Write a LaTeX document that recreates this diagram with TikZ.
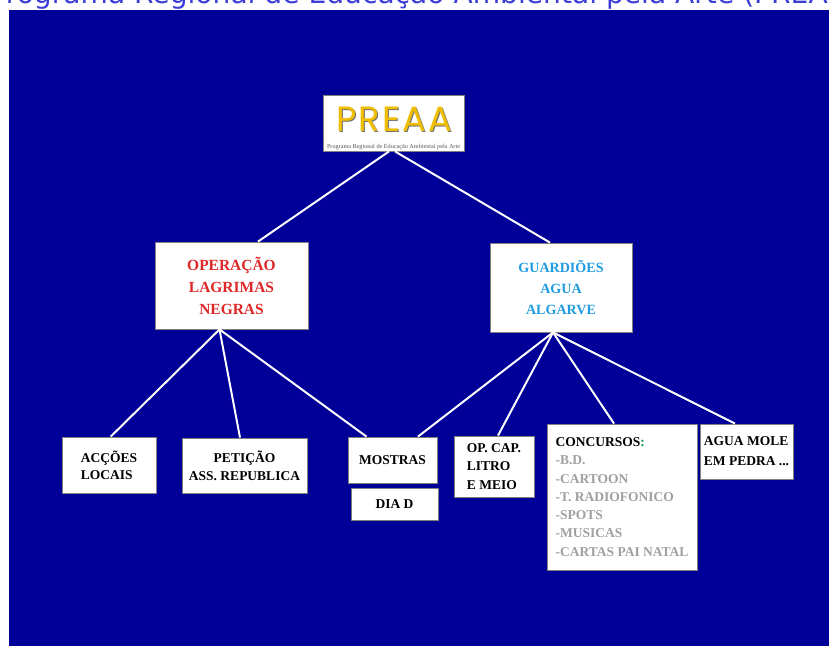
\documentclass[tikz,border=0pt]{standalone}
\usepackage{fontspec}
\setmainfont{Liberation Serif}
\newfontfamily\logofont[LetterSpace=6]{Poppins}
\newfontfamily\titlefont{DejaVu Sans}

\definecolor{bgblue}{RGB}{0,0,153}
\definecolor{titleblue}{RGB}{60,60,215}
\definecolor{logogold}{RGB}{240,190,0}
\definecolor{opred}{RGB}{222,40,40}
\definecolor{gablue}{RGB}{30,155,225}
\definecolor{itemgray}{RGB}{160,160,160}
\definecolor{colgreen}{RGB}{0,150,60}

\tikzset{
  box/.style={draw=gray, line width=0.6pt, fill=white, inner sep=0pt, align=center,
    font=\bfseries\fontsize{9.6}{13}\selectfont},
  link/.style={draw=white, line width=1.4pt},
}

\begin{document}
\begin{tikzpicture}[x=0.025cm, y=-0.025cm]
    \def\px{0.025cm}
    \useasboundingbox (0,0) rectangle (829,646);
    \clip (0,0) rectangle (829,646);

    \fill[bgblue] (9,10) rectangle (829,646);
    \node[anchor=base, text=titleblue, font=\titlefont\fontsize{20}{22}\selectfont] (title) at (424,3)
      {Programa Regional de Educação Ambiental pela Arte (PREAA)};

    % top box
    \node[box, minimum width=141*\px, minimum height=56*\px] (preaa) at (393.5,123) {};
    \node[anchor=base, text=black!55, font=\logofont\fontsize{25}{25}\selectfont] (logoshade) at (394.9,132.6) {PREAA};
    \node[anchor=base, text=logogold, font=\logofont\fontsize{25}{25}\selectfont] (logo) at (394,131.7) {PREAA};
    \node[anchor=base, text=black!65, font=\fontsize{4.4}{5}\selectfont] (caption) at (393.5,148)
      {Programa Regional de Educação Ambiental pela Arte};

    % second level
    \node[box, text=opred, font=\bfseries\fontsize{11}{15.6}\selectfont,
      minimum width=153*\px, minimum height=87*\px] (oln) at (231.5,285.5) {OPERAÇÃO\\LAGRIMAS\\NEGRAS};
    \node[box, text=gablue, font=\bfseries\fontsize{10}{15}\selectfont,
      minimum width=142*\px, minimum height=89*\px] (gaa) at (561,287.5) {GUARDIÕES\\AGUA\\ALGARVE};

    % third level
    \node[box, align=left, font=\bfseries\fontsize{9.6}{12.3}\selectfont,
      minimum width=94*\px, minimum height=56*\px] (accoes) at (109,465) {ACÇÕES\\LOCAIS};
    \node[box, minimum width=125*\px, minimum height=55*\px] (peticao) at (244.5,465.5) {PETIÇÃO\\ASS. REPUBLICA};
    \node[box, minimum width=89*\px, minimum height=46*\px] (mostras) at (392.5,460) {MOSTRAS};
    \node[box, minimum width=87*\px, minimum height=32*\px] (diad) at (394.5,504) {DIA D};
    \node[box, align=left, minimum width=80*\px, minimum height=61*\px] (opcap) at (494,466.5) {OP. CAP.\\LITRO\\E MEIO};
    \node[box, align=left, text=itemgray, minimum width=150*\px, minimum height=146*\px] (concursos) at (622,497)
      {\textcolor{black}{CONCURSOS}\textcolor{colgreen}{:}\\-B.D.\\-CARTOON\\-T. RADIOFONICO\\-SPOTS\\-MUSICAS\\-CARTAS PAI NATAL};
    \node[box, align=left, font=\bfseries\fontsize{9.6}{14.2}\selectfont,
      minimum width=93*\px, minimum height=55*\px] (aguamole) at (746.5,451.5) {AGUA MOLE\\EM PEDRA ...};

    % connectors
    \draw[link] ([shift={(-4.5,0)}]preaa.south) -- ([shift={(26.5,0)}]oln.north);
    \draw[link] ([shift={(1.5,0)}]preaa.south) -- ([shift={(-11,0)}]gaa.north);

    \draw[link] ([shift={(-12,0)}]oln.south) -- ([shift={(1.7,0)}]accoes.north);
    \draw[link] ([shift={(-12,0)}]oln.south) -- ([shift={(-4.5,0)}]peticao.north);
    \draw[link] ([shift={(-12,0)}]oln.south) -- ([shift={(-26,0)}]mostras.north);

    \draw[link] ([shift={(-8,0)}]gaa.south) -- ([shift={(25.5,0)}]mostras.north);
    \draw[link] ([shift={(-8,0)}]gaa.south) -- ([shift={(4,0)}]opcap.north);
    \draw[link] ([shift={(-8,0)}]gaa.south) -- ([shift={(-8,0)}]concursos.north);
    \draw[link] ([shift={(-8,0)}]gaa.south) -- ([shift={(-11.5,0)}]aguamole.north);
\end{tikzpicture}
\end{document}
